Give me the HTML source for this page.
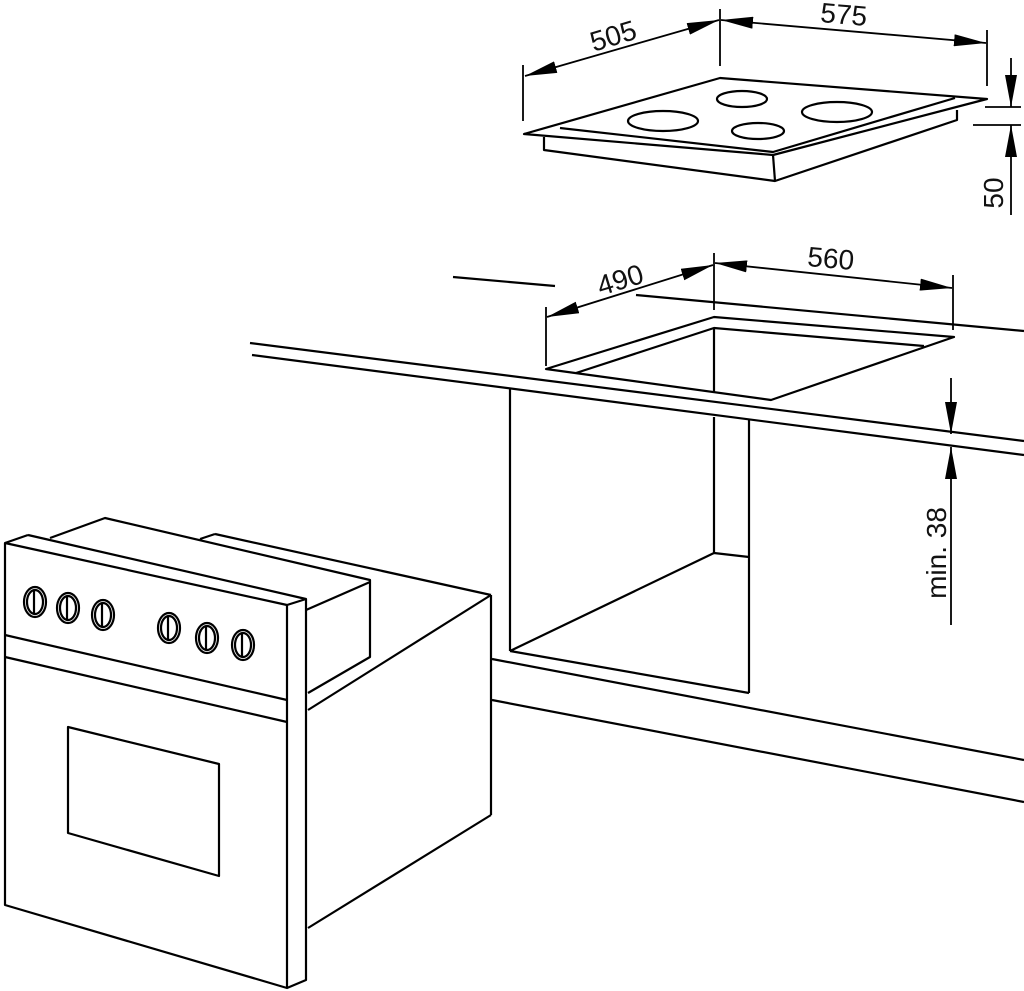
<!DOCTYPE html>
<html><head><style>
html,body{margin:0;padding:0;background:#fff;}
svg{display:block;}
text{font-family:"Liberation Sans",sans-serif;fill:#111;}
</style></head><body>
<svg width="1024" height="991" viewBox="0 0 1024 991" xmlns="http://www.w3.org/2000/svg">
<defs>
<marker id="a" viewBox="0 0 32 12" refX="32" refY="6" markerWidth="32" markerHeight="12" markerUnits="userSpaceOnUse" orient="auto-start-reverse"><path d="M0,0 L32,6 L0,12 z" fill="#000"/></marker>
</defs>
<g fill="none" stroke="#000" stroke-width="2.2" stroke-linejoin="round">
<!-- hob -->
<polygon points="524,134 720,78 987,99 773,155"/>
<polyline points="560,128 773,152 955,98"/>
<polyline points="544,137 544,150 775,181 957,120 957,110"/>
<line x1="773" y1="155" x2="775" y2="181"/>
<ellipse cx="663" cy="121" rx="35" ry="10"/>
<ellipse cx="742" cy="99" rx="25" ry="8"/>
<ellipse cx="758" cy="131" rx="26" ry="8"/>
<ellipse cx="837" cy="112" rx="35" ry="10"/>
</g>
<g fill="none" stroke="#000" stroke-width="1.8">
<!-- hob dims -->
<line x1="523" y1="65" x2="523" y2="121"/>
<line x1="720" y1="9" x2="720" y2="66"/>
<line x1="987" y1="30" x2="987" y2="86"/>
<line x1="525" y1="76" x2="719" y2="20" marker-start="url(#a)" marker-end="url(#a)"/>
<line x1="721" y1="20" x2="986" y2="43" marker-start="url(#a)" marker-end="url(#a)"/>
<line x1="1011" y1="58" x2="1011" y2="107" marker-end="url(#a)"/>
<line x1="1011" y1="215" x2="1011" y2="125" marker-end="url(#a)"/>
<line x1="985" y1="107" x2="1021" y2="107"/>
<line x1="973" y1="125" x2="1021" y2="125"/>
<!-- cutout dims -->
<line x1="546" y1="307" x2="546" y2="366"/>
<line x1="714" y1="253" x2="714" y2="310"/>
<line x1="953" y1="275" x2="953" y2="330"/>
<line x1="547" y1="317" x2="713" y2="265" marker-start="url(#a)" marker-end="url(#a)"/>
<line x1="715" y1="263" x2="952" y2="288" marker-start="url(#a)" marker-end="url(#a)"/>
<line x1="951" y1="378" x2="951" y2="434" marker-end="url(#a)"/>
<line x1="951" y1="625" x2="951" y2="447" marker-end="url(#a)"/>
</g>
<g fill="none" stroke="#000" stroke-width="2.2" stroke-linejoin="round">
<line x1="453" y1="277" x2="555" y2="286"/>
<line x1="636" y1="295" x2="1024" y2="331"/>
<!-- cutout -->
<polygon points="546,369 714,317 954,337 771,400"/>
<polyline points="576,373 714,328 924,346"/>
<line x1="714" y1="328" x2="714" y2="392"/>
<!-- counter -->
<line x1="250" y1="343" x2="1024" y2="441"/>
<line x1="252" y1="355" x2="1024" y2="455"/>
<!-- cabinet -->
<line x1="510" y1="389" x2="510" y2="651"/>
<line x1="749" y1="420" x2="749" y2="693"/>
<line x1="714" y1="417" x2="714" y2="553"/>
<line x1="714" y1="553" x2="749" y2="557"/>
<line x1="510" y1="651" x2="714" y2="553"/>
<line x1="510" y1="651" x2="749" y2="693"/>
<line x1="492" y1="659" x2="1024" y2="760"/>
<line x1="492" y1="700" x2="1024" y2="802"/>
<!-- oven body -->
<line x1="491" y1="595" x2="491" y2="815"/>
<line x1="215" y1="534" x2="491" y2="595"/>
<line x1="200" y1="539" x2="215" y2="534"/>
<line x1="308" y1="710" x2="491" y2="595"/>
<line x1="308" y1="928" x2="491" y2="815"/>
<polyline points="50,538 105,518 370,580 370,657 308,693"/>
<line x1="306" y1="610" x2="370" y2="582"/>
<!-- front -->
<polyline points="28,535 5,543 5,905 287,988 306,980 306,599 28,535"/>
<polyline points="5,543 287,605 306,599"/>
<line x1="287" y1="605" x2="287" y2="988"/>
<line x1="5" y1="635" x2="287" y2="700"/>
<line x1="5" y1="657" x2="287" y2="722"/>
<polygon points="68,727 219,764 219,876 68,833"/>
</g>
<g fill="none" stroke="#000" stroke-width="2.2">
<g transform="translate(35,602)"><ellipse rx="11" ry="15"/><ellipse rx="8" ry="12"/><path d="M-1,-12 V12"/></g>
<g transform="translate(68,608)"><ellipse rx="11" ry="15"/><ellipse rx="8" ry="12"/><path d="M-1,-12 V12"/></g>
<g transform="translate(103,615)"><ellipse rx="11" ry="15"/><ellipse rx="8" ry="12"/><path d="M-1,-12 V12"/></g>
<g transform="translate(169,628)"><ellipse rx="11" ry="15"/><ellipse rx="8" ry="12"/><path d="M-1,-12 V12"/></g>
<g transform="translate(207,638)"><ellipse rx="11" ry="15"/><ellipse rx="8" ry="12"/><path d="M-1,-12 V12"/></g>
<g transform="translate(243,645)"><ellipse rx="11" ry="15"/><ellipse rx="8" ry="12"/><path d="M-1,-12 V12"/></g>
</g>
<g font-size="28">
<text x="0" y="0" text-anchor="middle" transform="translate(616,45) rotate(-17)">505</text>
<text x="0" y="0" text-anchor="middle" transform="translate(843,24) rotate(5)">575</text>
<text x="0" y="0" text-anchor="middle" transform="translate(623,289) rotate(-17)">490</text>
<text x="0" y="0" text-anchor="middle" transform="translate(830,268) rotate(5)">560</text>
<text x="0" y="0" text-anchor="middle" transform="translate(1003,193) rotate(-90)">50</text>
<text x="0" y="0" text-anchor="middle" transform="translate(946,553) rotate(-90)">min. 38</text>
</g>
</svg>
</body></html>
